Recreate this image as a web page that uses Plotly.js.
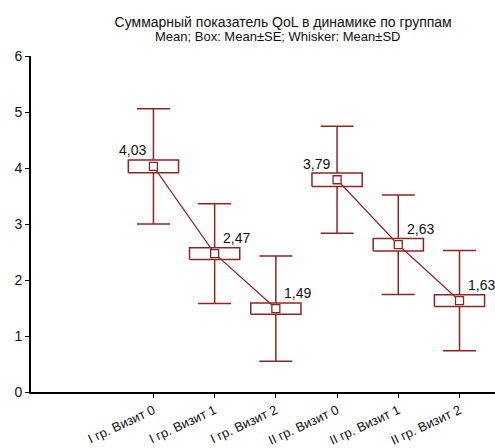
<!DOCTYPE html>
<html>
<head>
<meta charset="utf-8">
<script src="https://cdn.plot.ly/plotly-3.0.1.min.js"></script>
<style>
  html, body { margin: 0; padding: 0; background: #fff; }
  #chart { width: 495px; height: 448px; }
</style>
</head>
<body>
<div id="chart"></div>
<script>
// QoL summary score by group and visit: mean, box = mean ± SE, whiskers = mean ± SD
const categories = ['I гр. Визит 0', 'I гр. Визит 1', 'I гр. Визит 2',
                    'II гр. Визит 0', 'II гр. Визит 1', 'II гр. Визит 2'];
const means = [4.03, 2.47, 1.49, 3.79, 2.63, 1.63];
const se    = [0.115, 0.105, 0.10, 0.12, 0.11, 0.105];
const sd    = [1.03, 0.89, 0.94, 0.955, 0.89, 0.895];
const groups = [[0, 1, 2], [3, 4, 5]];
const titleLine = 'Суммарный показатель QoL в динамике по группам';
const subtitleLine = 'Mean; Box: Mean±SE; Whisker: Mean±SD';

const RED = 'rgb(139,38,38)';
const FONT = 'Liberation Sans, Arial, sans-serif';
const BOX_HALF = 0.41;           // half box width, x-axis units
const pos = categories.map((_, i) => i);

// Whiskers: mean ± SD as capped error bars
const whiskers = {
  type: 'scatter', mode: 'none',
  x: pos, y: means,
  error_y: { type: 'data', array: sd, symmetric: true, color: RED, thickness: 1.5, width: 16.5 },
  hoverinfo: 'skip', showlegend: false
};

// Boxes: mean ± SE as white-filled rectangles drawn over the whiskers
const bx = [], by = [];
means.forEach((m, i) => {
  const x0 = pos[i] - BOX_HALF, x1 = pos[i] + BOX_HALF;
  const y0 = m - se[i], y1 = m + se[i];
  bx.push(x0, x1, x1, x0, x0, null);
  by.push(y0, y0, y1, y1, y0, null);
});
const boxes = {
  type: 'scatter', mode: 'lines',
  x: bx, y: by,
  fill: 'toself', fillcolor: '#ffffff',
  line: { color: RED, width: 1.5 },
  hoverinfo: 'skip', showlegend: false
};

// Mean markers connected within each group
const meanTraces = groups.map(idx => ({
  type: 'scatter',
  mode: 'lines+markers',
  x: idx.map(i => pos[i]),
  y: idx.map(i => means[i]),
  line: { color: RED, width: 1.2 },
  marker: { symbol: 'square', size: 8, color: '#ffffff', line: { color: RED, width: 1.3 } },
  hoverinfo: 'skip',
  showlegend: false
}));

// Value labels: first visit of a group to the upper left, the rest to the upper right
const annotations = means.map((m, i) => ({
  x: pos[i], y: m, xref: 'x', yref: 'y',
  text: m.toFixed(2).replace('.', ','),
  showarrow: false,
  xshift: (i % 3 === 0) ? -21 : 22,
  yshift: 16,
  font: { family: FONT, size: 14, color: '#111' }
}));

// Second title line
annotations.push({
  xref: 'paper', yref: 'paper', x: 0.532, y: 1.0574,
  xanchor: 'center', yanchor: 'middle',
  text: subtitleLine, showarrow: false,
  font: { family: FONT, size: 13, color: '#111' }
});

const layout = {
  width: 495, height: 448,
  margin: { l: 31, r: 0, t: 56, b: 56 },
  paper_bgcolor: '#fff', plot_bgcolor: '#fff',
  font: { family: FONT, size: 13, color: '#111' },
  title: {
    text: titleLine,
    font: { family: FONT, size: 14, color: '#111' },
    xref: 'container', x: 0.572, xanchor: 'center',
    yref: 'container', y: 0.9516, yanchor: 'middle'
  },
  xaxis: {
    range: [-2, 5.58],
    tickmode: 'array', tickvals: pos, ticktext: categories,
    tickangle: -25,
    ticks: 'outside', ticklen: 4, tickcolor: '#000', tickwidth: 1,
    showline: true, linecolor: '#000', linewidth: 2,
    showgrid: false, zeroline: false,
    tickfont: { family: FONT, size: 13, color: '#111' }
  },
  yaxis: {
    range: [0, 6],
    tickvals: [0, 1, 2, 3, 4, 5, 6],
    ticks: 'outside', ticklen: 4, tickcolor: '#000', tickwidth: 1,
    showline: true, linecolor: '#000', linewidth: 2,
    showgrid: false, zeroline: false,
    tickfont: { family: FONT, size: 14, color: '#111' }
  },
  annotations: annotations
};

Plotly.newPlot('chart', [whiskers, boxes, ...meanTraces], layout, { staticPlot: true, displayModeBar: false });
</script>
</body>
</html>
